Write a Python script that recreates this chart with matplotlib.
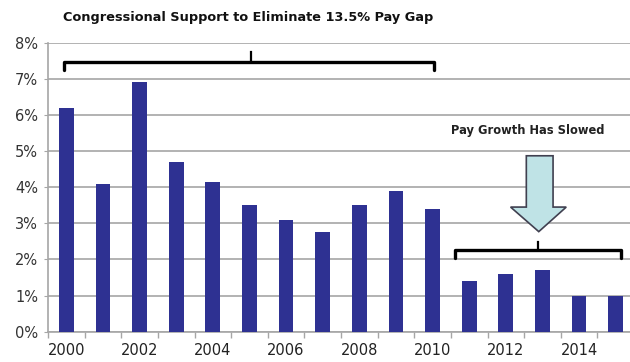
import matplotlib
matplotlib.use("Agg")
import matplotlib.pyplot as plt
from matplotlib.patches import Polygon
from matplotlib.ticker import FixedLocator, FuncFormatter

years = list(range(2000, 2016))
pay_raise = [6.2, 4.1, 6.9, 4.7, 4.15, 3.5, 3.1, 2.75, 3.5, 3.9, 3.4, 1.4, 1.6, 1.7, 1.0, 1.0]
y_ticks = [0, 1, 2, 3, 4, 5, 6, 7, 8]
title = "Congressional Support to Eliminate 13.5% Pay Gap"
note = "Pay Growth Has Slowed"

plt.rcParams['font.family'] = ['DejaVu Sans']
fig = plt.figure(figsize=(6.3, 3.62), dpi=100)
ax = fig.add_axes([48/630, 30.3/362, 586/630, 289/362])

x = list(range(len(years)))
ax.bar(x, pay_raise, width=0.4, color='#2e3192', zorder=3)

ax.set_xlim(-0.5, len(years) - 0.5)
ax.set_ylim(0, 8)
ax.yaxis.set_major_locator(FixedLocator(y_ticks))
ax.yaxis.set_major_formatter(FuncFormatter(lambda v, p: f"{int(v)}%"))
ax.grid(axis='y', color='#a6a6a6', linewidth=1.2, zorder=0)
ax.tick_params(axis='y', length=3, color='#a6a6a6', labelsize=10.5, labelcolor='#333333', pad=4)

ax.set_xticks(x[::2])
ax.set_xticklabels([str(y) for y in years[::2]])
ax.set_xticks([i - 0.5 for i in x] + [len(years) - 0.5], minor=True)
ax.tick_params(axis='x', which='major', length=0, labelsize=10.5, labelcolor='#222222', pad=8)
ax.tick_params(axis='x', which='minor', length=4, color='#a6a6a6', width=1)

for s in ['top', 'right']:
    ax.spines[s].set_visible(False)
ax.spines['left'].set_color('#a6a6a6')
ax.spines['bottom'].set_color('#a6a6a6')
ax.spines['left'].set_linewidth(1.2)
ax.spines['bottom'].set_linewidth(1.2)

def bracket(x0, x1, y, ydrop, xc, ytop):
    ax.plot([x0, x0, x1, x1], [ydrop, y, y, ydrop], color='black', lw=2.4,
            solid_joinstyle='round', solid_capstyle='round', zorder=5, clip_on=False)
    ax.plot([xc, xc], [y, ytop], color='black', lw=1.6, zorder=5, clip_on=False)

bracket(-0.05, 10.05, 7.47, 7.25, 5.03, 7.75)
bracket(10.6, 15.15, 2.26, 2.05, 12.87, 2.49)

arrow = Polygon([(12.56, 4.87), (13.29, 4.87), (13.29, 3.45), (13.65, 3.45),
                 (12.9, 2.77), (12.13, 3.45), (12.56, 3.45)],
                closed=True, facecolor='#bfe3e6', edgecolor='#404050', lw=1.2, zorder=6)
ax.add_patch(arrow)
ax.text(12.6, 5.56, note, ha='center', va='center', fontsize=8.3, fontweight='bold', color='#222222')

fig.text(248/630, 1 - 17/362, title, ha='center', va='center', fontsize=9.3, fontweight='bold', color='#111111')

fig.savefig('out.png', dpi=100)
